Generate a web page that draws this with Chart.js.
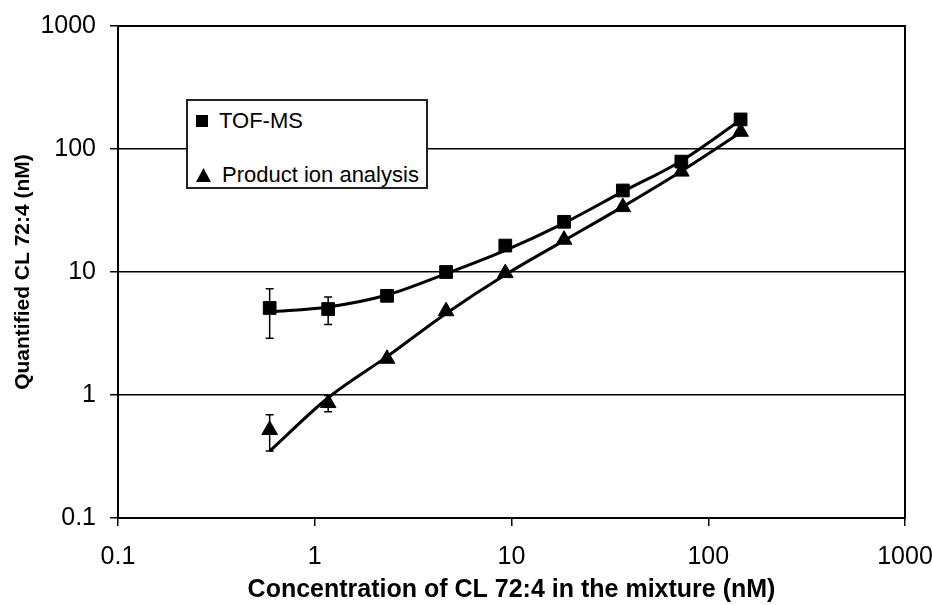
<!DOCTYPE html>
<html>
<head>
<meta charset="utf-8">
<script src="https://cdn.jsdelivr.net/npm/chart.js@4.4.0/dist/chart.umd.min.js"></script>
<style>
  body { margin: 0; background: #fff; }
  #wrap { position: relative; width: 932px; height: 605px; }
  #legendBox {
    position: absolute; left: 186px; top: 99px; width: 238px; height: 86px;
    border: 2px solid #222; background: #fff;
    font: 22px "Liberation Sans", Arial, sans-serif; color: #000;
  }
  .row { position: absolute; left: 8px; display: flex; align-items: center; white-space: nowrap; }
  .row svg { margin-right: 11px; }
</style>
</head>
<body>
<div id="wrap">
  <canvas id="chart" width="932" height="605"></canvas>
  <div id="legendBox">
    <div class="row" style="top:7px"><svg width="12" height="14"><rect x="0" y="1" width="12" height="12" fill="#000"/></svg>TOF-MS</div>
    <div class="row" style="top:61px"><svg width="15" height="14"><polygon points="7.5,0 15,14 0,14" fill="#000"/></svg>Product ion analysis</div>
  </div>
</div>
<script>
// x = spiked concentration (nM)
const concentration = [0.59, 1.17, 2.33, 4.65, 9.3, 18.5, 36.8, 73, 146];

// TOF-MS
const tofMs = [5.1, 5.0, 6.4, 10.0, 16.4, 25.6, 46, 79, 174];
const tofMsErr = [2.2, 1.25, 0, 0, 0, 0, 0, 0, 0];
const tofMsCurve = [4.75, 5.2, 6.5, 9.7, 15, 25, 45, 80, 172];

// Product ion analysis
const productIon = [0.52, 0.86, 1.97, 4.8, 9.8, 18.3, 33.7, 65.5, 138];
const productIonErr = [0.17, 0.13, 0, 0, 0, 0, 0, 0, 0];
const productIonCurve = [0.35, 0.95, 2.05, 4.6, 9.5, 18, 34, 66, 136];

const xTicks = [0.1, 1, 10, 100, 1000];
const xTickLabels = ['0.1', '1', '10', '100', '1000'];
const yTicks = [0.1, 1, 10, 100, 1000];
const yTickLabels = ['0.1', '1', '10', '100', '1000'];

const FONT = '"Liberation Sans", Arial, sans-serif';

function pts(ys) {
  return concentration.map((c, i) => ({ x: c, y: ys[i] }));
}

// error bars, drawn with the chart's own scales
const errorBars = {
  id: 'errorBars',
  afterDatasetsDraw(chart) {
    const ctx = chart.ctx;
    const xs = chart.scales.x, ys = chart.scales.y;
    const sets = [[tofMs, tofMsErr], [productIon, productIonErr]];
    ctx.save();
    ctx.strokeStyle = '#000';
    ctx.lineWidth = 1.5;
    sets.forEach(([vals, errs]) => {
      vals.forEach((v, i) => {
        if (!errs[i]) return;
        const px = xs.getPixelForValue(concentration[i]);
        const top = ys.getPixelForValue(v + errs[i]);
        const bot = ys.getPixelForValue(v - errs[i]);
        ctx.beginPath();
        ctx.moveTo(px, top); ctx.lineTo(px, bot);
        ctx.moveTo(px - 4, top); ctx.lineTo(px + 4, top);
        ctx.moveTo(px - 4, bot); ctx.lineTo(px + 4, bot);
        ctx.stroke();
      });
    });
    ctx.restore();
  }
};

// box round the plot area
const plotFrame = {
  id: 'plotFrame',
  afterDraw(chart) {
    const a = chart.chartArea, ctx = chart.ctx;
    ctx.save();
    ctx.strokeStyle = '#000';
    ctx.lineWidth = 2;
    ctx.strokeRect(a.left, a.top, a.right - a.left, a.bottom - a.top);
    ctx.restore();
  }
};

new Chart(document.getElementById('chart'), {
  type: 'line',
  data: {
    datasets: [
      {
        label: 'TOF-MS',
        data: pts(tofMs),
        showLine: false,
        pointStyle: 'rect',
        pointRadius: 9,
        pointBorderWidth: 1,
        pointBackgroundColor: '#000',
        pointBorderColor: '#000'
      },
      {
        label: 'Product ion analysis',
        data: pts(productIon),
        showLine: false,
        pointStyle: 'triangle',
        pointRadius: 9,
        pointBorderWidth: 1,
        pointBackgroundColor: '#000',
        pointBorderColor: '#000'
      },
      {
        label: 'TOF-MS fit',
        data: pts(tofMsCurve),
        borderColor: '#000',
        borderWidth: 3,
        pointRadius: 0,
        cubicInterpolationMode: 'monotone'
      },
      {
        label: 'Product ion fit',
        data: pts(productIonCurve),
        borderColor: '#000',
        borderWidth: 3,
        pointRadius: 0,
        cubicInterpolationMode: 'monotone'
      }
    ]
  },
  options: {
    responsive: false,
    animation: false,
    events: [],
    layout: { padding: { left: 0, right: 27, top: 26, bottom: 0 } },
    plugins: { legend: { display: false }, tooltip: { enabled: false } },
    scales: {
      x: {
        type: 'logarithmic',
        position: 'bottom',
        min: 0.1,
        max: 1000,
        afterBuildTicks: s => { s.ticks = xTicks.map(v => ({ value: v })); },
        afterFit: s => { s.height = 605 - 518; s.paddingLeft = 0; s.paddingRight = 0; },
        ticks: {
          callback: (v, i) => xTickLabels[i],
          autoSkip: false, maxRotation: 0,
          padding: 16,
          color: '#000',
          font: { family: FONT, size: 25 }
        },
        grid: { drawOnChartArea: false, drawTicks: true, tickLength: 8, color: '#000', lineWidth: 1.5 },
        border: { display: true, color: '#000', width: 2 },
        title: {
          display: true,
          text: 'Concentration of CL 72:4 in the mixture (nM)',
          color: '#000',
          padding: { top: 0, bottom: 0 },
          font: { family: FONT, size: 25, weight: 'bold' }
        }
      },
      y: {
        type: 'logarithmic',
        min: 0.1,
        max: 1000,
        afterBuildTicks: s => { s.ticks = yTicks.map(v => ({ value: v })); },
        afterFit: s => { s.width = 118; s.paddingTop = 0; s.paddingBottom = 0; },
        ticks: {
          callback: (v, i) => yTickLabels[i],
          autoSkip: false,
          padding: 14,
          color: '#000',
          font: { family: FONT, size: 25 }
        },
        grid: { drawOnChartArea: true, drawTicks: true, tickLength: 8, color: '#000', lineWidth: 1.5 },
        border: { display: true, color: '#000', width: 2 },
        title: {
          display: true,
          text: 'Quantified CL 72:4 (nM)',
          color: '#000',
          padding: { top: 11, bottom: 0 },
          font: { family: FONT, size: 21, weight: 'bold' }
        }
      }
    }
  },
  plugins: [errorBars, plotFrame]
});
</script>
</body>
</html>
